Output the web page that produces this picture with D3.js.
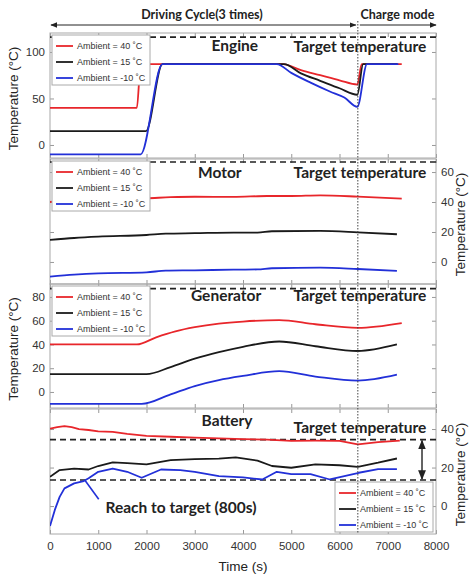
<!DOCTYPE html>
<html>
<head>
<meta charset="utf-8">
<script src="https://cdn.jsdelivr.net/npm/d3@7"></script>
<style>
	body { margin: 0; background: #fff; }
	text { font-family: "Liberation Sans", Arial, sans-serif; }
	.bold { font-family: Lato, "Noto Sans", sans-serif; font-weight: bold; fill: #222; }
</style>
</head>
<body>
<div id="chart-area"></div>
<script>
// ---- data (time s, temperature C) ----
const xTicks = [0, 1000, 2000, 3000, 4000, 5000, 6000, 7000, 8000];
const seriesNames = ["Ambient = 40 ˚C", "Ambient = 15 ˚C", "Ambient = -10 ˚C"];
const seriesColors = ["#e8262b", "#1a1a1a", "#2230d8"];

const engineTicks = [0, 50, 100];
const engine40 = [[0,40],[1800,40],[1880,87],[4830,87],[5200,80.5],[5600,75],[6000,69.5],[6370,65],[6460,87],[7290,87]];
const engine15 = [[0,15],[1990,15],[2330,87],[4850,87],[5200,77],[5600,69],[6000,61],[6370,54],[6490,87],[7200,87]];
const engineM10 = [[0,-10],[1880,-10],[2330,87],[4700,87],[5000,77.5],[5400,67],[5800,57.5],[6100,51],[6370,41],[6570,87],[7220,87]];
const engineTarget = [116];

const motorTicks = [0, 20, 40, 60];
const motor40 = [[0,40],[500,41.5],[1000,42],[2000,42.5],[2500,43.2],[3000,43.5],[3800,43.4],[4500,44],[5000,44],[5600,44.4],[6380,43.6],[7290,42.2]];
const motor15 = [[0,14.7],[500,16],[1000,16.9],[2000,18],[2400,18.9],[3000,19.2],[3800,19.6],[4300,19.6],[4600,20.5],[5600,20.7],[6380,19.8],[7190,18.5]];
const motorM10 = [[0,-9.8],[500,-8.5],[1000,-7.6],[2000,-6.9],[2400,-5.8],[3000,-5.6],[3800,-5.1],[4300,-5],[4600,-4.2],[5600,-3.8],[6380,-4.7],[7190,-6]];
const motorTarget = [66.7];

const genTicks = [0, 20, 40, 60, 80];
const gen40 = [[0,40],[1800,40],[2200,46],[2600,51],[3000,54.5],[3500,57.5],[4000,59.3],[4750,60.5],[5500,57],[6380,54],[7290,58]];
const gen15 = [[0,15],[2000,15],[2500,21],[3000,28],[3500,33.5],[4000,38],[4750,42.5],[5500,38.5],[6380,34.5],[7190,40]];
const genM10 = [[0,-10],[1900,-10],[2500,-2],[3000,5],[3500,10],[4000,13.5],[4750,17.5],[5500,13],[6380,9.5],[7190,14.5]];
const genTarget = [87];

const batTicks = [0, 20, 40];
const bat40 = [[0,40.2],[150,41],[300,41.5],[450,41],[600,40],[800,39.5],[1000,38.8],[1300,38.5],[1600,37.5],[2000,36.4],[2500,36],[3000,35.5],[3500,35.2],[4000,34.8],[4500,34.5],[5000,33.9],[5500,34],[6000,33.9],[6380,32],[6800,33.2],[7250,34]];
const bat15 = [[0,15.2],[200,18.7],[500,19.4],[800,19],[1000,20.8],[1300,22.7],[1600,22.3],[2000,21.7],[2500,23.9],[3000,24.4],[3500,24.6],[3850,25.3],[4300,23.6],[4600,20.8],[5000,19.9],[5500,21.7],[6000,21.2],[6380,20.4],[6800,22.5],[7190,24.7]];
const batM10 = [[0,-10.4],[100,-2],[200,4.8],[300,9.2],[500,11.8],[700,13],[800,14.4],[1000,17.8],[1300,19.5],[1600,17.8],[1900,14.7],[2300,19],[2700,18.7],[3000,17.8],[3500,15.5],[4000,14.9],[4400,13.8],[4700,17.8],[5000,16.6],[5400,16.6],[5800,13.8],[6100,15.5],[6400,17.3],[6800,19.2],[7190,19.2]];
const batTarget = [34.5, 13.5];

const chargeStart = 6380;
const reachPoint = [[720, 13.5], [1010, 3.5]];

// ---- layout ----
const W = 473, H = 578;
const x = d3.scaleLinear().domain([0, 8000]).range([50, 436]);

const panels = [
	{ title: "Engine", titleT: 3830, top: 33, bottom: 158, domain: [-14, 120.4], ticks: engineTicks, side: "left",
	  series: [engine40, engine15, engineM10], targets: engineTarget, legend: "tl", tOff: 18, ttOff: 19, curve: d3.curveMonotoneX },
	{ title: "Motor", titleT: 3520, top: 159, bottom: 284, domain: [-14.7, 68.7], ticks: motorTicks, side: "right",
	  series: [motor40, motor15, motorM10], targets: motorTarget, legend: "tl", tOff: 18.5, ttOff: 18.5, curve: d3.curveMonotoneX },
	{ title: "Generator", titleT: 3650, top: 284, bottom: 408, domain: [-13.5, 90.9], ticks: genTicks, side: "left",
	  series: [gen40, gen15, genM10], targets: genTarget, legend: "tl", tOff: 17, ttOff: 17, curve: d3.curveMonotoneX },
	{ title: "Battery", titleT: 3670, top: 409, bottom: 534, domain: [-14.5, 50.4], ticks: batTicks, side: "right",
	  series: [bat40, bat15, batM10], targets: batTarget, legend: "br", tOff: 17, ttOff: 24, curve: d3.curveLinear }
];

const svg = d3.select("#chart-area").append("svg")
	.attr("width", W)
	.attr("height", H);

const defs = svg.append("defs");
defs.append("marker")
	.attr("id", "arr")
	.attr("viewBox", "0 0 10 10")
	.attr("refX", 9).attr("refY", 5)
	.attr("markerWidth", 7).attr("markerHeight", 7)
	.attr("orient", "auto-start-reverse")
	.append("path")
	.attr("d", "M0,1 L10,5 L0,9 z")
	.attr("fill", "#222");

panels.forEach((p, i) => {
	const y = d3.scaleLinear().domain(p.domain).range([p.bottom, p.top]);

	defs.append("clipPath").attr("id", "clip" + i)
		.append("rect")
		.attr("x", x.range()[0]).attr("y", p.top)
		.attr("width", x.range()[1] - x.range()[0]).attr("height", p.bottom - p.top);

	const g = svg.append("g");

	// axes (ticks inside, matlab style)
	const yLab = p.side === "left" ? d3.axisLeft(y) : d3.axisRight(y);
	const yOpp = p.side === "left" ? d3.axisRight(y) : d3.axisLeft(y);
	g.append("g")
		.attr("class", "y axis")
		.attr("transform", "translate(" + (p.side === "left" ? x.range()[0] : x.range()[1]) + ",0)")
		.call(yLab.tickValues(p.ticks).tickSize(-4).tickPadding(5));
	g.append("g")
		.attr("transform", "translate(" + (p.side === "left" ? x.range()[1] : x.range()[0]) + ",0)")
		.call(yOpp.tickValues(p.ticks).tickSize(-4).tickFormat(""));
	g.append("g")
		.attr("transform", "translate(0," + p.top + ")")
		.call(d3.axisTop(x).tickValues(xTicks).tickSize(-4).tickFormat(""));
	g.append("g")
		.attr("transform", "translate(0," + p.bottom + ")")
		.call(d3.axisBottom(x).tickValues(xTicks).tickSize(-4).tickPadding(8)
			.tickFormat(i === panels.length - 1 ? d3.format("d") : ""));

	g.selectAll(".domain").remove();
	g.selectAll(".tick line").attr("stroke", "#999");
	g.selectAll(".tick text").attr("font-size", 11.5).attr("fill", "#333")
		.style("font-family", "'Liberation Sans', Arial, sans-serif");

	// frame
	g.append("rect")
		.attr("x", x.range()[0]).attr("y", p.top)
		.attr("width", x.range()[1] - x.range()[0]).attr("height", p.bottom - p.top)
		.attr("fill", "none").attr("stroke", "#a8a8a8");

	// target lines
	g.selectAll(".target")
		.data(p.targets)
		.enter()
		.append("line")
		.attr("class", "target")
		.attr("x1", x.range()[0]).attr("x2", x.range()[1])
		.attr("y1", d => y(d)).attr("y2", d => y(d))
		.attr("stroke", "#222").attr("stroke-width", 1.6)
		.attr("stroke-dasharray", "6,4");

	// series
	const line = d3.line().x(d => x(d[0])).y(d => y(d[1])).curve(p.curve);
	g.append("g").attr("clip-path", "url(#clip" + i + ")")
		.selectAll("path")
		.data(p.series)
		.enter()
		.append("path")
		.attr("d", line)
		.attr("fill", "none")
		.attr("stroke", (d, k) => seriesColors[k])
		.attr("stroke-width", 1.8)
		.attr("stroke-linejoin", "round");

	// titles
	g.append("text").attr("class", "bold")
		.attr("x", x(p.titleT)).attr("y", p.top + p.tOff)
		.attr("text-anchor", "middle").attr("font-size", 15.5)
		.text(p.title);
	g.append("text").attr("class", "bold")
		.attr("x", x(6425)).attr("y", p.top + p.ttOff)
		.attr("text-anchor", "middle").attr("font-size", 15.5)
		.text("Target temperature");

	// y label
	const lx = p.side === "left" ? 18 : 465;
	g.append("text")
		.attr("transform", "translate(" + lx + "," + ((p.top + p.bottom) / 2 + 3) + ") rotate(-90)")
		.attr("text-anchor", "middle")
		.attr("font-size", 13.5).attr("fill", "#222")
		.text("Temperature (°C)");

	// legend
	const lw = 98, lh = 50;
	const lx0 = p.legend === "tl" ? 52 : 335;
	const ly0 = p.legend === "tl" ? p.top + 2 : p.bottom - lh - 2;
	const lg = g.append("g").attr("transform", "translate(" + lx0 + "," + ly0 + ")");
	lg.append("rect").attr("width", lw).attr("height", lh)
		.attr("fill", "#fff").attr("stroke", "#aaa");
	seriesNames.forEach((name, k) => {
		const yy = 11 + k * 16;
		lg.append("line").attr("x1", 4).attr("x2", 21).attr("y1", yy).attr("y2", yy)
			.attr("stroke", seriesColors[k]).attr("stroke-width", 1.8);
		lg.append("text").attr("x", 25).attr("y", yy + 3.2)
			.attr("font-size", 9).attr("fill", "#333").text(name);
	});

	p.y = y;
});

// battery annotations
const pb = panels[3];
svg.append("line")
	.attr("x1", x(reachPoint[0][0])).attr("y1", pb.y(reachPoint[0][1]))
	.attr("x2", x(reachPoint[1][0])).attr("y2", pb.y(reachPoint[1][1]))
	.attr("stroke", "#2230d8").attr("stroke-width", 1.6);
svg.append("text").attr("class", "bold")
	.attr("x", x(2715)).attr("y", pb.y(-3.7))
	.attr("text-anchor", "middle").attr("font-size", 15.5)
	.text("Reach to target (800s)");
svg.append("line")
	.attr("x1", x(7710)).attr("x2", x(7710))
	.attr("y1", pb.y(batTarget[0]) + 1).attr("y2", pb.y(batTarget[1]) - 1)
	.attr("stroke", "#222").attr("stroke-width", 1.4)
	.attr("marker-start", "url(#arr)").attr("marker-end", "url(#arr)");

// x label
svg.append("text")
	.attr("x", x(4000)).attr("y", 571)
	.attr("text-anchor", "middle").attr("font-size", 13.5).attr("fill", "#222")
	.text("Time (s)");

// charge mode divider
svg.append("line")
	.attr("x1", x(chargeStart)).attr("x2", x(chargeStart))
	.attr("y1", 21).attr("y2", panels[3].bottom)
	.attr("stroke", "#444").attr("stroke-width", 1)
	.attr("stroke-dasharray", "1.5,1.5");

// header arrows
svg.append("line")
	.attr("x1", x(0) + 1).attr("x2", x(chargeStart) - 2).attr("y1", 25).attr("y2", 25)
	.attr("stroke", "#222").attr("stroke-width", 1)
	.attr("marker-start", "url(#arr)").attr("marker-end", "url(#arr)");
svg.append("line")
	.attr("x1", x(chargeStart) + 2).attr("x2", x(8000)).attr("y1", 25).attr("y2", 25)
	.attr("stroke", "#222").attr("stroke-width", 1)
	.attr("marker-end", "url(#arr)");
svg.append("text").attr("class", "bold")
	.attr("x", x(3150)).attr("y", 19)
	.attr("text-anchor", "middle").attr("font-size", 12.5)
	.text("Driving Cycle(3 times)");
svg.append("text").attr("class", "bold")
	.attr("x", x(7200)).attr("y", 19)
	.attr("text-anchor", "middle").attr("font-size", 12.5)
	.text("Charge mode");
</script>
</body>
</html>
